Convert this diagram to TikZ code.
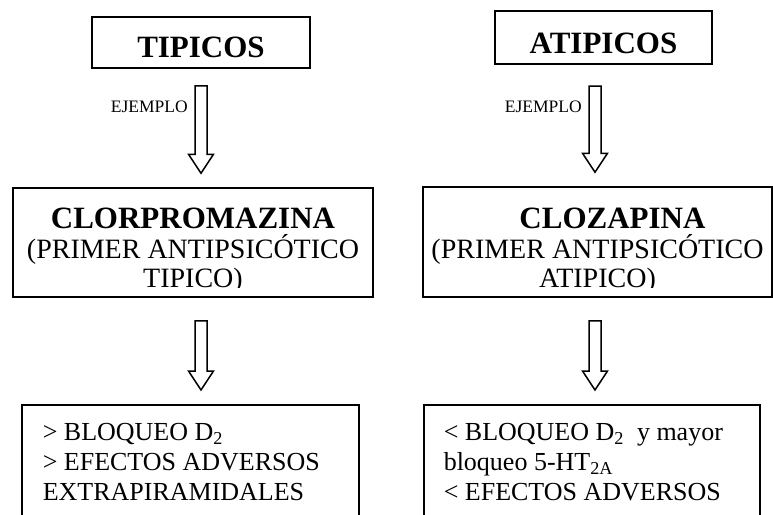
\documentclass[tikz,border=0pt]{standalone}
\usepackage{fontspec}
\setmainfont{Liberation Serif}
\usetikzlibrary{calc, positioning}
\tikzset{
x=1pt, y=-1pt, % one unit is one pixel, y grows downwards
box/.style={draw, line width=1.5pt, inner sep=0pt}, % frame of every box
headbox/.style={box, font=\bfseries\fontsize{31}{31}\selectfont, text depth=0pt}, % TIPICOS / ATIPICOS
midtext/.style={align=center, inner sep=0pt, font=\fontsize{28}{29}\selectfont}, % drug name and note
lowbox/.style={box, anchor=north west, align=flush left, minimum height=115, font=\fontsize{26}{30}\selectfont}, % effects
ejemplo/.style={anchor=east, inner sep=0pt, font=\fontsize{17.5}{20}\selectfont}, % small label on the arrow
fatarrow/.style={line width=1.5pt, line join=miter}, % outline of the hollow arrows
}
% hollow block arrow from the top of its shaft (#1) to its tip (#2)
\newcommand{\blockarrow}[2]{%
\draw[fatarrow] ($(#1)+(-6,0)$) -- ($(#2)+(-6,-19)$) -- ($(#2)+(-12.5,-19)$) -- (#2)
  -- ($(#2)+(12.5,-19)$) -- ($(#2)+(6,-19)$) -- ($(#1)+(6,0)$) -- cycle;}

\begin{document}
\begin{tikzpicture}

\useasboundingbox (0, 0) rectangle (773, 514);
\clip (0, 0) rectangle (773, 514);

% first row
\node[headbox, minimum width=218, minimum height=51, text height=29pt] at (201, 42.5) (tip) {TIPICOS};
\node[headbox, minimum width=217, minimum height=53, text height=31pt] at (603.5, 37.5) (atip) {ATIPICOS};

% second row, the last line is cut by the frame
\node[box, minimum width=360, minimum height=109] at (193, 242.5) (clor) {};
\node[box, minimum width=349, minimum height=110] at (597.5, 242) (cloz) {};
\begin{scope}
\clip (clor.north west) rectangle ([yshift=10pt]clor.south east);
\node[midtext] at (193, 250.5) (clortxt) {{\bfseries\fontsize{31}{31}\selectfont CLORPROMAZINA}\\[1pt]
  (PRIMER ANTIPSICÓTICO\hspace*{22pt}\\TIPICO)};
\end{scope}
\begin{scope}
\clip (cloz.north west) rectangle ([yshift=10pt]cloz.south east);
\node[midtext] at (597.5, 250.5) (cloztxt) {{\bfseries\fontsize{31}{31}\selectfont\hspace*{30pt}CLOZAPINA}\\[1pt]
  (PRIMER ANTIPSICÓTICO\\ATIPICO)};
\end{scope}

% third row
\node[lowbox, text width=295, inner xsep=21] at (21, 404) (efclor) {> BLOQUEO D\textsubscript{2}\\
  > EFECTOS ADVERSOS\\EXTRAPIRAMIDALES};
\node[lowbox, text width=296, inner xsep=20] at (423, 404) (efcloz) {< BLOQUEO D\textsubscript{2}\ \ y mayor\\
  bloqueo 5-HT\textsubscript{2A}\\< EFECTOS ADVERSOS};

% arrows
\coordinate (a1top) at ([yshift=-17pt]tip.south);
\coordinate (a1tip) at ([yshift=14pt]a1top |- clor.north);
\coordinate (a2top) at (595, 86);
\coordinate (a2tip) at ([yshift=14pt]a2top |- cloz.north);
\coordinate (a3top) at ([yshift=-23pt]a1top |- clor.south);
\coordinate (a3tip) at ([yshift=14pt]a3top |- efclor.north);
\coordinate (a4top) at ([yshift=-23pt]a2top |- cloz.south);
\coordinate (a4tip) at ([yshift=14pt]a4top |- efcloz.north);

\blockarrow{a1top}{a1tip}
\blockarrow{a2top}{a2tip}
\blockarrow{a3top}{a3tip}
\blockarrow{a4top}{a4tip}

\node[ejemplo] at (188, 107) (ej1) {EJEMPLO};
\node[ejemplo] at (582, 107) (ej2) {EJEMPLO};

\end{tikzpicture}
\end{document}
